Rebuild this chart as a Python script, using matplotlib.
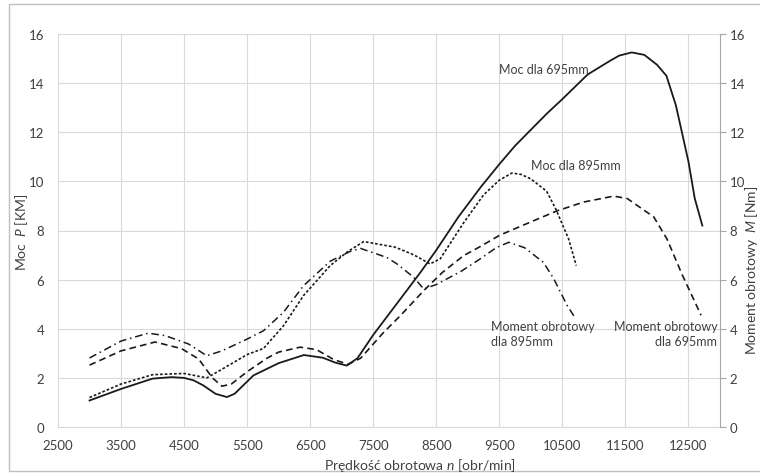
import matplotlib
matplotlib.use("Agg")
import matplotlib.pyplot as plt
from matplotlib.patches import Rectangle

plt.rcParams['font.family'] = ['Lato', 'DejaVu Sans']
plt.rcParams['mathtext.fontset'] = 'custom'
plt.rcParams['mathtext.rm'] = 'Lato'
plt.rcParams['mathtext.it'] = 'Lato:italic'

# Moc dla 695mm (solid)
rpm_p695 = [3000, 3500, 4000, 4300, 4500, 4650, 4800, 5000, 5180, 5300, 5400, 5600, 6000, 6400,
            6700, 6900, 7080, 7250, 7500, 7750, 8000, 8250, 8500, 8850, 9200, 9500, 9750, 10000,
            10250, 10500, 10700, 10900, 11250, 11400, 11600, 11800, 12000, 12150, 12300, 12500,
            12600, 12720]
moc_695 = [1.08, 1.55, 1.97, 2.03, 2.0, 1.9, 1.7, 1.35, 1.22, 1.35, 1.6, 2.1, 2.6, 2.93,
           2.82, 2.62, 2.5, 2.8, 3.75, 4.6, 5.45, 6.3, 7.2, 8.55, 9.75, 10.7, 11.45, 12.1,
           12.75, 13.35, 13.85, 14.35, 14.9, 15.12, 15.25, 15.15, 14.75, 14.3, 13.1, 10.8,
           9.3, 8.2]

# Moc dla 895mm (dotted)
rpm_p895 = [3000, 3500, 4000, 4500, 4860, 5100, 5500, 5760, 6076, 6394, 6817, 7100, 7350, 7850,
            8150, 8400, 8560, 8930, 9250, 9500, 9700, 9850, 10000, 10250, 10400, 10600, 10720]
moc_895 = [1.2, 1.75, 2.13, 2.18, 2.0, 2.35, 2.95, 3.2, 4.12, 5.35, 6.57, 7.15, 7.55, 7.32,
           7.0, 6.64, 6.84, 8.3, 9.45, 10.05, 10.34, 10.28, 10.1, 9.6, 8.85, 7.65, 6.57]

# Moment obrotowy dla 695mm (dashed)
rpm_m695 = [3000, 3500, 4040, 4460, 4730, 4950, 5100, 5250, 5500, 5813, 6000, 6341, 6600, 6870,
            7100, 7300, 7664, 7929, 8300, 8600, 8935, 9200, 9500, 10000, 10415, 10840, 11315,
            11530, 11950, 12160, 12400, 12700]
mom_695 = [2.52, 3.1, 3.46, 3.19, 2.77, 2.0, 1.66, 1.75, 2.25, 2.8, 3.05, 3.25, 3.15, 2.75,
           2.55, 2.8, 3.85, 4.53, 5.55, 6.3, 6.98, 7.35, 7.8, 8.35, 8.8, 9.16, 9.4,
           9.3, 8.55, 7.65, 6.2, 4.55]

# Moment obrotowy dla 895mm (dash-dot)
rpm_m895 = [3000, 3500, 3930, 4200, 4570, 4860, 5100, 5500, 5760, 6076, 6394, 6817, 7135, 7300,
            7717, 7876, 8140, 8300, 8500, 8900, 9200, 9450, 9650, 9900, 10200, 10360, 10575, 10700]
mom_895 = [2.81, 3.5, 3.82, 3.72, 3.38, 2.9, 3.1, 3.58, 3.92, 4.67, 5.75, 6.75, 7.15, 7.27,
           6.9, 6.64, 6.1, 5.62, 5.8, 6.35, 6.85, 7.3, 7.52, 7.3, 6.7, 6.05, 4.95, 4.45]

x_ticks = list(range(2500, 13000, 1000))
y_ticks = list(range(0, 17, 2))

txt = '#404040'
grid = '#d9d9d9'

fig = plt.figure(figsize=(7.6, 4.77), dpi=100)
ax = fig.add_axes([58 / 760, 49 / 477, 662 / 760, 393 / 477])

ax.plot(rpm_p695, moc_695, color='#1a1a1a', lw=1.3, ls='-')
ax.plot(rpm_p895, moc_895, color='#1a1a1a', lw=1.2, ls=(0, (1.6, 1.2)))
ax.plot(rpm_m695, mom_695, color='#1a1a1a', lw=1.2, ls=(0, (4, 2.5)))
ax.plot(rpm_m895, mom_895, color='#1a1a1a', lw=1.1, ls=(0, (5, 2.5, 1, 2.5)))

ax.set_xlim(2500, 13000)
ax.set_ylim(0, 16)
ax.set_xticks(x_ticks)
ax.set_yticks(y_ticks)
ax.grid(True, color=grid, lw=0.8)
ax.set_axisbelow(True)
for s in ['top', 'left', 'right']:
    ax.spines[s].set_visible(False)
ax.spines['bottom'].set_color(grid)
ax.tick_params(axis='both', length=0, labelsize=9.5, labelcolor=txt)
ax.tick_params(axis='y', pad=10)
ax.tick_params(axis='x', pad=9)

ax2 = ax.twinx()
ax2.set_ylim(0, 16)
ax2.set_yticks(y_ticks)
for s in ['top', 'left', 'bottom']:
    ax2.spines[s].set_visible(False)
ax2.spines['right'].set_color('#a6a6a6')
ax2.tick_params(axis='y', length=4, color='#a6a6a6', labelsize=9.5, labelcolor=txt, pad=3)

# curve labels
ax.text(9500, 14.57, 'Moc dla 695mm', fontsize=9, color=txt, va='center', ha='left')
ax.text(10010, 10.67, 'Moc dla 895mm', fontsize=9, color=txt, va='center', ha='left')
ax.text(9360, 3.8, 'Moment obrotowy\ndla 895mm', fontsize=9, color=txt, va='center', ha='left',
        linespacing=1.25)
ax.text(12960, 3.8, 'Moment obrotowy\ndla 695mm', fontsize=9, color=txt, va='center', ha='right',
        multialignment='right', linespacing=1.25)

# axis titles
fig.text(420 / 760, 1 - 466 / 477, 'Prędkość obrotowa $\\mathit{n}$ [obr/min]', fontsize=10,
         color=txt, ha='center', va='center')
fig.text(22 / 760, 1 - 232 / 477, 'Moc  $\\mathit{P}$ [KM]', fontsize=10, color=txt,
         ha='center', va='center', rotation=90)
fig.text(751 / 760, 1 - 270 / 477, 'Moment obrotowy  $\\mathit{M}$ [Nm]', fontsize=10, color=txt,
         ha='center', va='center', rotation=90)

# chart border
fig.patches.append(Rectangle((9 / 760, 5 / 477), 1.2, 467 / 477, transform=fig.transFigure,
                             fill=False, edgecolor='#bfbfbf', lw=1))

fig.savefig('out.png', dpi=100)
